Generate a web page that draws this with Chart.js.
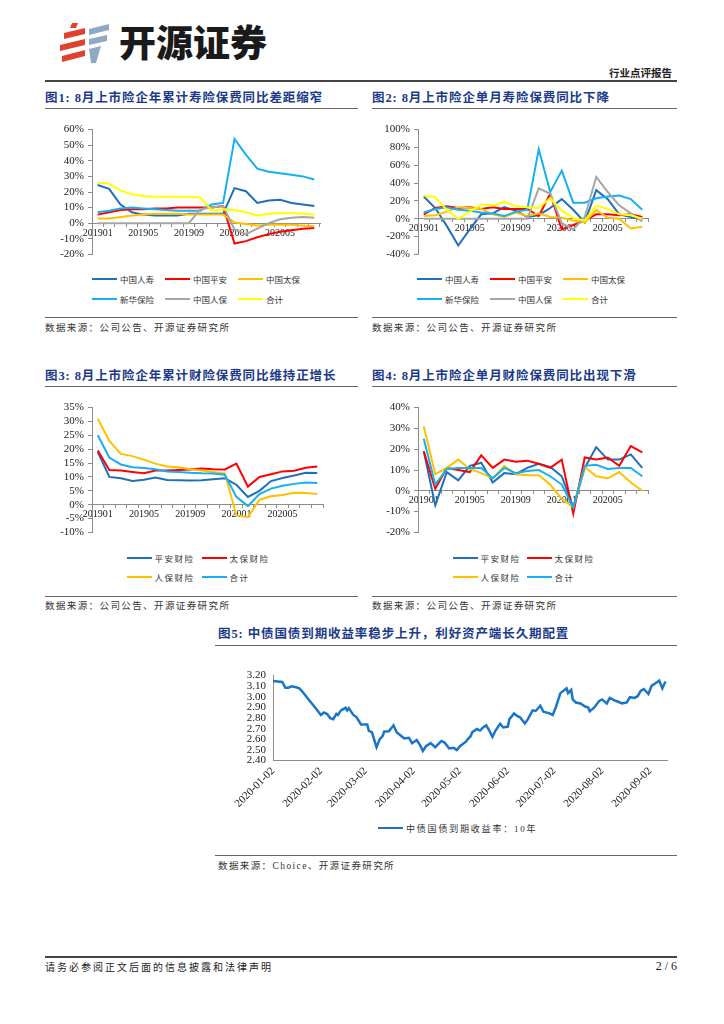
<!DOCTYPE html>
<html lang="zh-CN">
<head>
<meta charset="UTF-8">
<title>开源证券 行业点评报告</title>
<script src="https://cdn.jsdelivr.net/npm/chart.js@4.4.0/dist/chart.umd.min.js"></script>
<style>
  body { margin: 0; background: #fff; }
  #page { position: relative; width: 724px; height: 1024px; overflow: hidden; font-family: "Noto Sans CJK SC", sans-serif; color: #222; }
  .title { position: absolute; font-family: "Liberation Serif", "Noto Sans CJK SC", serif; font-size: 12.5px; font-weight: bold; color: #1b3a8a; white-space: nowrap; line-height: 14px; letter-spacing: 0.9px; }
  .rule { position: absolute; height: 0; border-top: 1.5px solid #666; }
  .src { position: absolute; font-family: "Liberation Serif", "Noto Sans CJK SC", serif; font-size: 9.5px; letter-spacing: 1.4px; color: #333; white-space: nowrap; line-height: 12px; }
  .box { position: absolute; }
  .lg { position: absolute; display: flex; align-items: center; white-space: nowrap; color: #333; height: 12px; font-family: "Liberation Serif", "Noto Sans CJK SC", serif; }
  .lg i { display: inline-block; height: 2.5px; }
</style>
</head>
<body>
<div id="page">
  <svg style="position:absolute;left:58px;top:20px" width="54" height="46" viewBox="58 20 54 46">
    <polygon points="72,23 78,23 76,28 70,28" fill="#e0412f"/>
    <polygon points="64,33 85,28 85,34 64,39" fill="#e0412f"/>
    <polygon points="60,45 85,39 85,45 60,51" fill="#e0412f"/>
    <polygon points="62,56 85,50 85,56 62,62" fill="#e0412f"/>
    <polygon points="89,29 109,24 109,30 89,35" fill="#8ea9c1"/>
    <polygon points="89,39 107,35 107,41 89,45" fill="#8ea9c1"/>
    <polygon points="89,49 101,46 96,63 91,63" fill="#8ea9c1"/>
  </svg>
  <div style="position:absolute;left:119px;top:19px;font-size:37px;font-weight:900;line-height:44px;color:#1a1a1a;white-space:nowrap">开源证券</div>
  <div style="position:absolute;right:52px;top:66px;font-size:10.5px;font-weight:bold;line-height:14px;white-space:nowrap">行业点评报告</div>
  <div class="rule" style="left:45px;width:632px;top:80px;border-top:2px solid #444"></div>

  <div class="title" style="left:45px;top:91px">图1: 8月上市险企年累计寿险保费同比差距缩窄</div>
  <div class="title" style="left:372px;top:91px">图2: 8月上市险企单月寿险保费同比下降</div>
  <div class="rule" style="left:45px;width:313px;top:108px"></div>
  <div class="rule" style="left:372px;width:305px;top:108px"></div>

  <div class="box" style="left:40px;top:119px;width:285px;height:146px"><canvas id="c1"></canvas></div>
  <div class="box" style="left:365px;top:119px;width:288px;height:146px"><canvas id="c2"></canvas></div>
  <div id="lg1"></div><div id="lg2"></div>

  <div class="rule" style="left:45px;width:313px;top:317px"></div>
  <div class="rule" style="left:372px;width:305px;top:317px"></div>
  <div class="src" style="left:45px;top:322px">数据来源：公司公告、开源证券研究所</div>
  <div class="src" style="left:372px;top:322px">数据来源：公司公告、开源证券研究所</div>

  <div class="title" style="left:45px;top:369px">图3: 8月上市险企年累计财险保费同比维持正增长</div>
  <div class="title" style="left:372px;top:369px">图4: 8月上市险企单月财险保费同比出现下滑</div>
  <div class="rule" style="left:45px;width:313px;top:386px"></div>
  <div class="rule" style="left:372px;width:305px;top:386px"></div>

  <div class="box" style="left:40px;top:397px;width:288px;height:146px"><canvas id="c3"></canvas></div>
  <div class="box" style="left:365px;top:397px;width:288px;height:146px"><canvas id="c4"></canvas></div>
  <div id="lg3"></div><div id="lg4"></div>

  <div class="rule" style="left:45px;width:313px;top:596px"></div>
  <div class="rule" style="left:372px;width:305px;top:596px"></div>
  <div class="src" style="left:45px;top:600px">数据来源：公司公告、开源证券研究所</div>
  <div class="src" style="left:372px;top:600px">数据来源：公司公告、开源证券研究所</div>

  <div class="title" style="left:218px;top:627px">图5: 中债国债到期收益率稳步上升，利好资产端长久期配置</div>
  <div class="rule" style="left:215px;width:462px;top:645px"></div>
  <div class="box" style="left:215px;top:662px;width:457px;height:151px"><canvas id="c5"></canvas></div>
  <div id="lg5"></div>
  <div class="rule" style="left:215px;width:462px;top:855px"></div>
  <div class="src" style="left:218px;top:860px">数据来源：Choice、开源证券研究所</div>

  <div class="rule" style="left:45px;width:632px;top:956px;border-top:2px solid #444"></div>
  <div style="position:absolute;left:45px;top:960px;font-size:10px;letter-spacing:2px;line-height:13px;white-space:nowrap;color:#222">请务必参阅正文后面的信息披露和法律声明</div>
  <div style="position:absolute;right:47px;top:959px;font-family:'Liberation Serif',serif;font-size:12px;line-height:14px;white-space:nowrap;color:#222">2 / 6</div>
</div>

<script>
// 月份
const months = ['201901','201902','201903','201904','201905','201906','201907','201908','201909','201910',
                '201911','201912','202001','202002','202003','202004','202005','202006','202007','202008'];

// 图1 年累计寿险保费同比 (%)
const lifeNames = ['中国人寿','中国平安','中国太保','新华保险','中国人保','合计'];
const lifeColors = ['#1f6fbb','#ff0000','#ffc000','#16b0ee','#a6a6a6','#ffff00'];
const cumLifeGuoshou = [24.5, 22, 12, 7, 5.5, 5, 5, 5, 6, 6, 6, 6, 22.5, 20.5, 13, 14.5, 15, 13, 12, 11];
const cumLifePingan  = [5.5, 7, 8.5, 9, 9, 9.5, 9.5, 10, 10, 10, 10, 11, -13, -11.5, -9, -7, -5.5, -4.5, -3.5, -3];
const cumLifeTaibao  = [3, 3, 4, 5, 5.5, 6, 6, 6, 5.5, 5.5, 5.5, 5.5, 0.5, -0.5, -1.5, -1, -1, -1, -1.5, -2];
const cumLifeXinhua  = [7, 8, 9.5, 10, 9.5, 9, 8.5, 8, 8, 8, 12, 13, 54, 44, 35, 33, 32, 31, 30, 28];
const cumLifeRenbao  = [0, 0, 0, 0, 0, 0, 0, 0, 0, 9, 10, 11, -4, -7, -3.5, 0, 2.5, 3.5, 4, 3.5];
const cumLifeTotal   = [26, 25.5, 21, 18.5, 17.5, 17, 17, 17, 17, 16.5, 8, 9, 8.5, 7, 5, 6, 6.5, 6.5, 6, 5.5];

// 图2 单月寿险保费同比 (%)
const monLifeGuoshou = [25, 12, -8, -30, -12, 5, 6, 13, 9, 2, 4, 12, 22, 10, -4, 32, 22, 5, 2, -1];
const monLifePingan  = [5, 12, 14, 12, 13, 11, 13, 11, 11, 11, 3, 28, -12, -7, -2, 5, 5, 4, 5, 2];
const monLifeTaibao  = [3, 4, 8, 13, 12, 11, 5, 2, 7, 3, 6, 2, 1, -2, -4, 10, 1, 0, -11, -9];
const monLifeXinhua  = [7, 11, 13, 10, 9, 7, 6, 3, 8, 10, 78, 30, 54, 18, 18, 23, 25, 26, 22, 10];
const monLifeRenbao  = [0, 0, 0, 0, 0, 0, 0, 0, 0, 0, 34, 28, -5, -12, 2, 47, 30, 15, 6, -3];
const monLifeTotal   = [26, 24, 10, 0, 8, 16, 15, 19, 14, 13, 12, 23, 9, 1, -2, 15, 11, 5, 4, 0];

// 图3 年累计财险保费同比 (%)
const pcNames = ['平安财险','太保财险','人保财险','合计'];
const pcColors = ['#1f6fbb','#ff0000','#ffc000','#16b0ee'];
const cumPcPingan = [19, 10, 9.5, 8.5, 9, 9.8, 8.9, 8.8, 8.7, 8.8, 9.2, 9.5, 7.2, 2.8, 5, 8.5, 9.6, 10.5, 11.5, 11.4];
const cumPcTaibao = [19.5, 12.5, 12.3, 11.8, 11.3, 12.3, 12.3, 12.5, 12.7, 13, 12.8, 12.7, 14.8, 6.5, 10, 11, 12, 12.2, 13.3, 13.8];
const cumPcRenbao = [31, 23, 18.3, 17.5, 16.2, 14.8, 13.8, 13.5, 12.8, 12.3, 11.8, 11.3, -3.8, -4.5, 1.8, 3, 3.5, 4.3, 4.2, 3.8];
const cumPcTotal  = [25, 17, 14.5, 13.5, 13.2, 12.8, 12, 11.8, 11.5, 11.3, 11.2, 10.8, 2.8, -0.5, 3.8, 5.8, 6.8, 7.5, 8, 7.8];

// 图4 单月财险保费同比 (%)
const monPcPingan = [19, -7, 9, 5, 12, 13.5, 4, 8.5, 8, 11, 13, 11.5, 7, -8, 11, 21, 15, 15, 17.5, 11];
const monPcTaibao = [19, 1, 11, 10, 9, 17, 11, 15, 14, 14.5, 13, 11, 15, -11, 16, 15, 16, 12, 21.5, 18.5];
const monPcRenbao = [31, 8, 11, 15, 10.5, 8.5, 6, 12, 8, 7.5, 7.5, 3, -4, -8, 11.5, 7, 6, 9, 4, 0];
const monPcTotal  = [25, 3, 10.5, 11, 11, 11, 6, 11, 8.5, 9.5, 10, 7, 3, -8, 12, 12.5, 10.5, 11, 11, 7];

// 图5 中债国债到期收益率：10年 (距 2020-01-02 的天数, %)
const bondName = '中债国债到期收益率：10年';
const bondDays = [0, 3, 6, 8, 10, 12, 15, 17, 19, 23, 27, 31, 33, 35, 37, 39, 41, 42, 44, 47,
  48, 49, 52, 54, 57, 61, 62, 64, 67, 69, 71, 72, 75, 78, 80, 83, 85, 88, 90, 93,
  95, 97, 99, 102, 105, 109, 111, 114, 117, 119, 121, 125, 126, 128, 129, 132, 134, 136, 138, 140,
  142, 144, 147, 149, 152, 153, 156, 158, 160, 163, 165, 168, 170, 173, 175, 179, 181, 183, 186, 190,
  191, 193, 194, 196, 199, 202, 204, 205, 208, 211, 213, 216, 218, 221, 223, 226, 229, 231, 234, 236,
  238, 240, 243, 245, 247, 250, 252, 254];
const bondYield = [3.15, 3.145, 3.14, 3.085, 3.085, 3.10, 3.09, 3.08, 3.05, 2.975, 2.905, 2.83, 2.853, 2.838, 2.80, 2.79, 2.84, 2.83, 2.873, 2.897,
  2.873, 2.894, 2.83, 2.81, 2.74, 2.74, 2.68, 2.668, 2.526, 2.60, 2.632, 2.674, 2.676, 2.732, 2.668, 2.632, 2.608, 2.614, 2.564, 2.594,
  2.55, 2.49, 2.535, 2.564, 2.526, 2.585, 2.57, 2.515, 2.52, 2.50, 2.535, 2.58, 2.60, 2.632, 2.668, 2.697, 2.683, 2.712, 2.732, 2.683,
  2.623, 2.683, 2.747, 2.712, 2.72, 2.79, 2.844, 2.82, 2.806, 2.75, 2.79, 2.873, 2.867, 2.917, 2.86, 2.845, 2.83, 2.90, 3.035, 3.08,
  3.035, 3.065, 2.976, 2.947, 2.938, 2.909, 2.90, 2.865, 2.90, 2.96, 2.976, 2.938, 2.99, 2.967, 2.956, 2.938, 2.947, 2.997, 2.99, 3.006,
  3.056, 3.074, 3.027, 3.103, 3.124, 3.153, 3.08, 3.144];
const monthDays = [0, 31, 60, 91, 121, 152, 182, 213, 244];
const monthLabels = ['2020-01-02','2020-02-02','2020-03-02','2020-04-02','2020-05-02','2020-06-02','2020-07-02','2020-08-02','2020-09-02'];

const serif = '"Times New Roman", "Liberation Serif", serif';
const axisColor = '#8c8c8c';

function monthChart(id, names, colors, series, yMin, yMax, yStep, axisWidth) {
  return new Chart(document.getElementById(id), {
    type: 'line',
    data: {
      labels: months,
      datasets: series.map((d, i) => ({
        label: names[i], data: d, borderColor: colors[i], backgroundColor: colors[i],
        borderWidth: 2, pointRadius: 0, tension: 0, order: series.length - i
      }))
    },
    options: {
      animation: false, responsive: true, maintainAspectRatio: false, events: [],
      layout: { padding: { top: 8, bottom: 8, left: 0, right: 5 } },
      plugins: { legend: { display: false }, tooltip: { enabled: false } },
      scales: {
        x: {
          position: { y: 0 }, offset: true,
          grid: { drawOnChartArea: false, tickLength: 3, color: axisColor, offset: true },
          border: { color: axisColor },
          ticks: { autoSkip: false, maxRotation: 0, padding: 1, color: '#222', font: { family: serif, size: 10 },
                   callback: (v, i) => i % 4 === 0 ? months[i] : '' },
          afterFit: s => { s.height = 0; }
        },
        y: {
          min: yMin, max: yMax,
          ticks: { stepSize: yStep, autoSkip: false, padding: 4, color: '#222', font: { family: serif, size: 11 }, callback: v => v + '%' },
          grid: { drawOnChartArea: false, tickLength: 4, color: axisColor },
          border: { color: axisColor },
          afterFit: s => { s.width = axisWidth; }
        }
      }
    }
  });
}

function htmlLegend(id, chart, xs, ys, lineW, fontSize, spacing) {
  const host = document.getElementById(id);
  chart.data.datasets.forEach((ds, i) => {
    const el = document.createElement('div');
    el.className = 'lg';
    el.style.left = xs[i % xs.length] + 'px';
    el.style.top = (ys[Math.floor(i / xs.length)] - 6) + 'px';
    el.style.fontSize = fontSize + 'px';
    el.style.letterSpacing = spacing + 'px';
    const mark = document.createElement('i');
    mark.style.width = lineW + 'px';
    mark.style.background = ds.borderColor;
    mark.style.marginRight = '3px';
    el.appendChild(mark);
    el.appendChild(document.createTextNode(ds.label));
    host.appendChild(el);
  });
}

const c1 = monthChart('c1', lifeNames, lifeColors,
  [cumLifeGuoshou, cumLifePingan, cumLifeTaibao, cumLifeXinhua, cumLifeRenbao, cumLifeTotal], -20, 60, 10, 52);
const c2 = monthChart('c2', lifeNames, lifeColors,
  [monLifeGuoshou, monLifePingan, monLifeTaibao, monLifeXinhua, monLifeRenbao, monLifeTotal], -40, 100, 20, 53);
const c3 = monthChart('c3', pcNames, pcColors,
  [cumPcPingan, cumPcTaibao, cumPcRenbao, cumPcTotal], -10, 35, 5, 52);
const c4 = monthChart('c4', pcNames, pcColors,
  [monPcPingan, monPcTaibao, monPcRenbao, monPcTotal], -20, 40, 10, 53);

const c5 = new Chart(document.getElementById('c5'), {
  type: 'line',
  data: {
    datasets: [{
      label: bondName,
      data: bondDays.map((d, i) => ({ x: d, y: bondYield[i] })),
      borderColor: '#1a75c9', backgroundColor: '#1a75c9', borderWidth: 2.5, pointRadius: 0, tension: 0
    }]
  },
  options: {
    animation: false, responsive: true, maintainAspectRatio: false, events: [],
    layout: { padding: { top: 8, bottom: 0, left: 0, right: 5 } },
    plugins: { legend: { display: false }, tooltip: { enabled: false } },
    scales: {
      x: {
        type: 'linear', min: 0, max: 255,
        afterBuildTicks: s => { s.ticks = monthDays.map(v => ({ value: v })); },
        grid: { drawOnChartArea: false, drawTicks: false },
        border: { color: axisColor },
        ticks: { autoSkip: false, minRotation: 45, maxRotation: 45, padding: 4, color: '#222', font: { family: serif, size: 11 },
                 callback: v => monthLabels[monthDays.indexOf(v)] },
        afterFit: s => { s.height = 52.4; }
      },
      y: {
        min: 2.4, max: 3.2,
        ticks: { stepSize: 0.1, autoSkip: false, padding: 7, color: '#222', font: { family: serif, size: 11 }, callback: v => v.toFixed(2) },
        grid: { drawOnChartArea: false, drawTicks: false },
        border: { color: axisColor },
        afterFit: s => { s.width = 58; }
      }
    }
  }
});

htmlLegend('lg1', c1, [92, 165, 238], [279, 299], 25, 8.5, 0);
htmlLegend('lg2', c2, [417, 490, 563], [279, 299], 25, 8.5, 0);
htmlLegend('lg3', c3, [127, 202], [558, 577], 24.5, 8.5, 1.5);
htmlLegend('lg4', c4, [453, 527], [558, 577], 24.5, 8.5, 1.5);
htmlLegend('lg5', c5, [378], [828], 25, 9, 1.8);
</script>
</body>
</html>
